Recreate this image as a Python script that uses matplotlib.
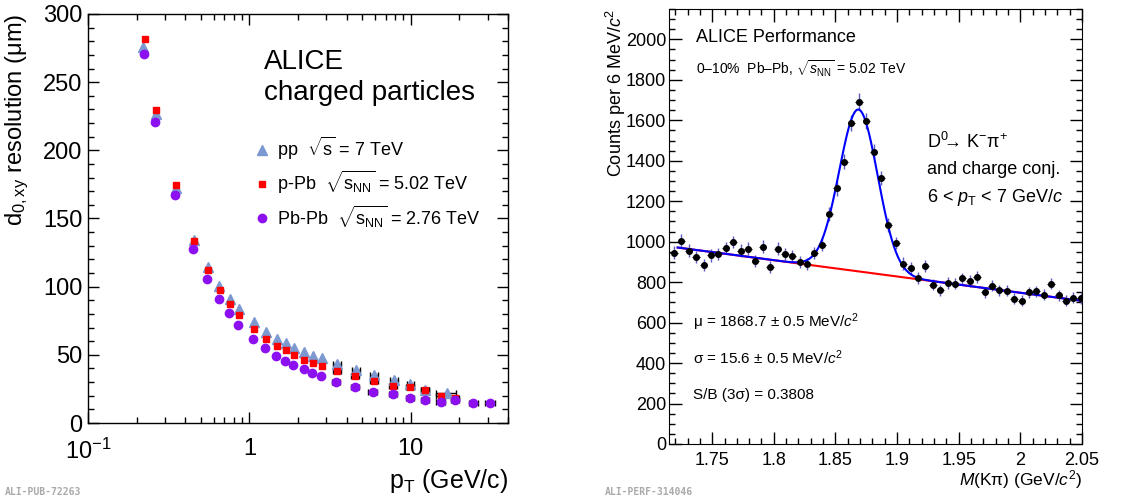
import numpy as np
import matplotlib
matplotlib.use('Agg')
import matplotlib.pyplot as plt
from matplotlib.ticker import MultipleLocator, FixedLocator, FixedFormatter, LogLocator, NullFormatter

plt.rcParams['font.family'] = ['Liberation Sans', 'DejaVu Sans']
plt.rcParams['mathtext.fontset'] = 'custom'
plt.rcParams['mathtext.rm'] = 'Liberation Sans'
plt.rcParams['mathtext.it'] = 'Liberation Sans:italic'
plt.rcParams['mathtext.bf'] = 'Liberation Sans:bold'

# ---- left panel: impact parameter resolution vs pT
pt_pp = [0.220, 0.263, 0.351, 0.456, 0.554, 0.652, 0.755, 0.859, 1.069, 1.269, 1.477, 1.688,
         1.89, 2.19, 2.49, 2.82, 3.49, 4.58, 5.93, 7.85, 9.95, 12.3, 16.7]
d0_pp = [275.6, 226.5, 172.2, 133.9, 114.3, 100.7, 91.1, 83.6, 73.8, 66.9, 61.6, 58.6,
         55.0, 51.8, 49.4, 47.4, 43.5, 38.8, 35.4, 31.5, 28.8, 24.4, 22.0]
xerr_pp = [0, 0, 0, 0, 0, 0, 0, 0, 0, 0, 0, 0,
           0, 0, 0, 0, 0.2, 0.25, 0.35, 0.45, 0.5, 0.7, 2.3]

pt_ppb = [0.224, 0.265, 0.351, 0.456, 0.552, 0.655, 0.755, 0.859, 1.064, 1.274, 1.477, 1.688,
          1.89, 2.19, 2.48, 2.81, 3.49, 4.54, 5.9, 7.8, 9.9, 12.3, 15.3, 18.9]
d0_ppb = [281.5, 229.7, 174.7, 133.6, 111.9, 97.2, 87.5, 79.4, 68.9, 61.6, 56.7, 53.3,
          49.8, 46.4, 44.0, 41.8, 38.1, 34.2, 31.0, 26.9, 26.6, 23.9, 19.8, 18.3]
xerr_ppb = [0, 0, 0, 0, 0, 0, 0, 0, 0, 0, 0, 0,
            0, 0, 0, 0, 0.2, 0.25, 0.35, 0.45, 0.5, 0.7, 0.9, 1.1]

pt_pbpb = [0.223, 0.260, 0.348, 0.450, 0.547, 0.649, 0.748, 0.851, 1.054, 1.256, 1.456, 1.671,
           1.874, 2.17, 2.45, 2.78, 3.43, 4.54, 5.81, 7.74, 9.9, 12.2, 15.3, 18.9, 24.4, 31.0]
d0_pbpb = [270.5, 221.0, 167.6, 127.5, 105.5, 90.9, 80.6, 72.1, 61.6, 54.7, 49.4, 45.7,
           42.5, 39.6, 36.4, 34.7, 30.3, 26.6, 22.5, 21.0, 18.6, 17.1, 15.6, 17.1, 14.7, 14.7]
xerr_pbpb = [0, 0, 0, 0, 0, 0, 0, 0, 0, 0, 0, 0,
             0, 0, 0, 0, 0.2, 0.25, 0.35, 0.45, 0.5, 0.7, 0.9, 1.1, 1.5, 2.0]

# ---- right panel: D0 invariant mass
mass_lo = 1.716
bin_width = 0.006
counts = [946, 1004, 956, 925, 884, 932, 938, 968, 998, 956, 965, 904, 976, 876, 965, 940,
          927, 899, 889, 945, 986, 1137, 1263, 1396, 1585, 1692, 1597, 1445, 1314, 1083, 993, 892,
          871, 820, 882, 787, 760, 795, 792, 818, 805, 825, 749, 782, 760, 757, 719, 708,
          751, 754, 737, 792, 734, 709, 724, 721]
# fit result: gaussian + linear background
fit_mu = 1.8687
fit_sigma = 0.0156
fit_amp = 800.0
bkg_p0 = 971.0
bkg_slope = -803.7
bkg_x0 = 1.722
fit_lo, fit_hi = 1.722, 2.048

fig = plt.figure(figsize=(11.47, 5.0), dpi=100)

ax1 = fig.add_axes([0.0767, 0.154, 0.3662, 0.818])
ax1.set_xscale('log')

series = [
    (pt_pp, d0_pp, xerr_pp, '^', '#7b98d0', 6.5, r'pp  $\sqrt{\mathrm{s}}$ = 7 TeV'),
    (pt_ppb, d0_ppb, xerr_ppb, 's', '#ff0000', 5.0, r'p-Pb  $\sqrt{\mathrm{s_{NN}}}$ = 5.02 TeV'),
    (pt_pbpb, d0_pbpb, xerr_pbpb, 'o', '#8c10f0', 6.0, r'Pb-Pb  $\sqrt{\mathrm{s_{NN}}}$ = 2.76 TeV'),
]
handles = []
for x, y, xe, mk, col, ms, lab in series:
    x = np.array(x); y = np.array(y); xe = np.array(xe)
    m = xe > 0
    ax1.errorbar(x[m], y[m], xerr=xe[m], fmt='none', ecolor='black', elinewidth=1.0,
                 capsize=2, zorder=2)
    h, = ax1.plot(x, y, mk, color=col, mec=col, ms=ms, linestyle='none', label=lab, zorder=3)
    handles.append(h)

ax1.set_xlim(0.1, 40)
ax1.set_ylim(0, 300)
ax1.xaxis.set_major_locator(FixedLocator([0.1, 1, 10]))
ax1.xaxis.set_major_formatter(FixedFormatter([r'$10^{-1}$', '1', '10']))
ax1.xaxis.set_minor_locator(LogLocator(base=10, subs=np.arange(2, 10)))
ax1.xaxis.set_minor_formatter(NullFormatter())
ax1.yaxis.set_major_locator(MultipleLocator(50))
ax1.yaxis.set_minor_locator(MultipleLocator(10))
ax1.tick_params(which='both', direction='in', top=True, right=True, labelsize=17, width=1)
ax1.tick_params(which='major', length=8)
ax1.tick_params(axis='x', which='major', pad=11)
ax1.tick_params(which='minor', length=4)
ax1.tick_params(axis='y', which='major', pad=4)
for sp in ax1.spines.values():
    sp.set_linewidth(1.0)

ax1.set_ylabel(r'd$_{0,\mathrm{xy}}$ resolution ($\mathrm{\mu}$m)', fontsize=17, loc='top')
ax1.yaxis.set_label_coords(-0.135, 1.0)
ax1.set_xlabel(r'p$_{\mathrm{T}}$ (GeV/c)', fontsize=18, loc='right')
ax1.xaxis.set_label_coords(1.0, -0.108)

ax1.text(0.42, 0.882, 'ALICE', transform=ax1.transAxes, fontsize=20, va='center')
ax1.text(0.42, 0.807, 'charged particles', transform=ax1.transAxes, fontsize=20, va='center')
ax1.legend(handles=handles, loc='upper left', bbox_to_anchor=(0.363, 0.735), frameon=False,
           fontsize=13, handlelength=1.0, handletextpad=0.35, labelspacing=0.4, borderpad=0.2)

# ---- right panel
ax2 = fig.add_axes([0.5833, 0.112, 0.36, 0.87])
centers = mass_lo + bin_width * (np.arange(len(counts)) + 0.5)
counts_arr = np.array(counts, dtype=float)
ax2.errorbar(centers, counts_arr, yerr=np.sqrt(counts_arr), fmt='none', ecolor='#5a5ac0',
             elinewidth=1.0, capsize=0, zorder=2)
ax2.errorbar(centers, counts_arr, xerr=bin_width / 2, fmt='none', ecolor='black',
             elinewidth=0.8, capsize=0, zorder=2)
ax2.plot(centers, counts_arr, 'o', color='black', ms=4, zorder=4)

xf = np.linspace(fit_lo, fit_hi, 600)
bkg = bkg_p0 + bkg_slope * (xf - bkg_x0)
total = bkg + fit_amp * np.exp(-0.5 * ((xf - fit_mu) / fit_sigma) ** 2)
ax2.plot(xf, bkg, color='#ff0000', lw=1.5, zorder=3)
ax2.plot(xf, total, color='#0000ff', lw=1.5, zorder=3)

ax2.set_xlim(1.715, 2.05)
ax2.set_ylim(0, 2150)
ax2.xaxis.set_major_locator(FixedLocator([1.75, 1.8, 1.85, 1.9, 1.95, 2.0, 2.05]))
ax2.xaxis.set_major_formatter(FixedFormatter(['1.75', '1.8', '1.85', '1.9', '1.95', '2', '2.05']))
ax2.xaxis.set_minor_locator(MultipleLocator(0.01))
ax2.yaxis.set_major_locator(MultipleLocator(200))
ax2.yaxis.set_minor_locator(MultipleLocator(50))
ax2.tick_params(which='both', direction='in', top=True, right=True, labelsize=13, width=1)
ax2.tick_params(which='major', length=9, pad=6)
ax2.tick_params(which='minor', length=4.5)
ax2.tick_params(axis='y', which='major', pad=2)

ax2.set_ylabel(r'Counts per 6 MeV/$c^2$', fontsize=13, loc='top')
ax2.yaxis.set_label_coords(-0.1, 1.0)
ax2.set_xlabel(r'$M$(K$\mathrm{\pi}$) (GeV/$c^2$)', fontsize=12.5, loc='right')
ax2.xaxis.set_label_coords(1.0, -0.056)

ax2.text(0.065, 0.935, 'ALICE Performance', transform=ax2.transAxes, fontsize=13, va='center')
ax2.text(0.065, 0.862, r'0–10%  Pb–Pb, $\sqrt{s_{\mathrm{NN}}}$ = 5.02 TeV',
         transform=ax2.transAxes, fontsize=10, va='center')
ax2.text(0.625, 0.695, r'D$^{0}\!\!\!\rightarrow\!$ K$^{-}$π$^{+}$', transform=ax2.transAxes,
         fontsize=13, va='center')
ax2.text(0.625, 0.632, 'and charge conj.', transform=ax2.transAxes, fontsize=13, va='center')
ax2.text(0.625, 0.566, r'6 < $p_{\mathrm{T}}$ < 7 GeV/$c$', transform=ax2.transAxes,
         fontsize=13, va='center')
ax2.text(0.058, 0.28, r'μ = 1868.7 ± 0.5 MeV/$c^2$', transform=ax2.transAxes, fontsize=11, va='center')
ax2.text(0.058, 0.198, r'σ = 15.6 ± 0.5 MeV/$c^2$', transform=ax2.transAxes, fontsize=11, va='center')
ax2.text(0.058, 0.113, 'S/B (3σ) = 0.3808', transform=ax2.transAxes, fontsize=11, va='center')

fig.text(5 / 1147, 1 - 492 / 500, 'ALI-PUB-72263', fontsize=7, color='#aaaaaa',
         family='DejaVu Sans Mono', weight='bold', va='center')
fig.text(605 / 1147, 1 - 492 / 500, 'ALI-PERF-314046', fontsize=7, color='#aaaaaa',
         family='DejaVu Sans Mono', weight='bold', va='center')

fig.savefig('out.png', dpi=100)
